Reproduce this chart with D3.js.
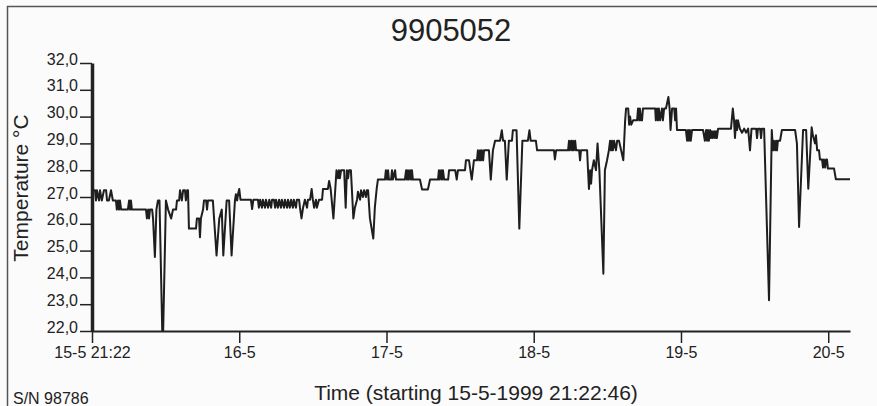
<!DOCTYPE html>
<html lang="en">
<head>
  <meta charset="UTF-8">
  <title>9905052</title>
  <script src="https://d3js.org/d3.v7.min.js"></script>
  <style>
    body {
      margin: 0;
      background: #fbfbfb;
      font-family: "Liberation Sans", Arial, sans-serif;
      color: #222;
    }
    .axis text {
      font-family: "Liberation Sans", Arial, sans-serif;
      font-size: 16px;
      fill: #222;
    }
    .axis line, .axis path {
      stroke: #222;
    }
  </style>
</head>
<body>
  <div id="chart"></div>
  <script>
    // hours since 15-5-1999 21:22:46, temperature in °C
    const readings = [
      [0.0,27.25],[0.5,27.25],[0.65,26.87],[0.8,27.25],[1.15,26.87],[1.3,27.25],[1.6,26.87],[1.95,27.25],
      [2.3,27.25],[2.45,26.87],[2.75,26.87],[3.1,27.25],[3.4,26.87],[3.9,26.87],[4.05,26.53],[4.25,26.87],
      [4.4,26.53],[4.55,26.87],[4.75,26.53],[5.85,26.53],[6.05,26.87],[6.2,26.53],[6.35,26.87],[6.5,26.53],
      [8.8,26.53],[8.95,26.2],[9.15,26.53],[9.3,26.2],[9.45,26.53],[9.8,26.53],[9.95,26.2],[10.25,24.76],
      [10.5,26.53],[10.75,26.87],[11.0,26.87],[11.45,22.0],[11.6,22.0],[12.05,26.87],[12.4,26.53],[12.9,26.2],
      [13.2,26.53],[13.7,26.53],[13.85,26.87],[14.2,26.87],[14.35,27.25],[14.65,26.87],[14.85,27.25],[15.15,27.25],
      [15.3,26.87],[15.5,27.25],[15.65,27.25],[15.8,25.82],[16.95,25.82],[17.1,26.2],[17.45,26.2],[17.6,25.5],
      [17.75,26.2],[18.1,26.53],[18.25,26.87],[18.6,26.87],[18.75,26.53],[18.9,26.87],[19.7,26.87],[20.3,24.82],
      [20.75,26.2],[21.15,26.53],[21.4,24.82],[21.95,26.87],[22.35,26.87],[22.75,24.82],[23.3,26.87],[23.45,27.1],
      [23.65,26.87],[23.8,27.1],[24.0,27.3],[24.2,26.9],[24.6,26.9],
      [24.95,26.9],[25.9,26.9],[26.1,26.55],[26.3,26.9],[27.05,26.9],[27.2,26.6],[27.4,26.9],[27.7,26.6],
      [27.85,26.9],[28.2,26.6],[28.35,26.9],[28.7,26.6],[28.9,26.9],[29.2,26.6],[29.35,26.9],[29.65,26.9],
      [29.85,26.6],[30.0,26.9],[30.3,26.6],[30.5,26.9],[30.8,26.6],[30.95,26.9],[31.3,26.6],[31.45,26.9],
      [31.8,26.6],[31.95,26.9],[32.25,26.6],[32.45,26.9],[32.75,26.6],[32.9,26.9],[33.25,26.6],[33.4,26.9],
      [33.75,26.9],[33.9,26.6],[34.15,26.2],[34.4,26.6],[34.7,26.9],[35.05,26.6],[35.2,26.9],[35.55,26.9],
      [35.8,27.3],[36.0,26.9],[36.2,26.6],[36.5,26.9],[36.65,26.6],[37.0,26.9],[37.5,26.9],[37.65,27.3],
      [38.45,27.3],[38.65,27.6],[38.9,27.3],[39.35,26.2],[39.85,28.0],[40.1,27.7],[40.25,28.0],[40.4,27.7],
      [40.6,28.0],[41.1,28.0],[41.35,26.6],[41.55,28.0],[41.75,27.7],[41.9,28.0],[42.2,28.0],[42.6,26.2],
      [42.85,26.6],[43.2,26.9],[43.35,27.2],[43.7,26.9],[43.85,27.25],[44.15,27.0],[44.35,27.25],[44.65,27.0],
      [44.8,27.25],[45.0,27.25],[45.3,26.2],[45.85,25.45],[46.1,26.6],[46.4,27.3],[46.6,27.65],[47.75,27.65],
      [47.9,28.0],[48.1,27.65],[48.25,28.0],[48.4,27.65],[48.75,27.65],[48.9,28.0],[49.05,27.65],[49.4,28.0],
      [49.55,27.65],
      [51.0,27.65],[51.2,28.0],[51.35,27.65],[51.5,28.0],[51.65,27.65],[51.85,28.0],[52.0,27.65],[52.15,28.0],
      [52.3,27.65],[53.45,27.65],[53.8,27.28],[54.75,27.28],[55.1,27.65],[56.4,27.65],[56.55,28.0],[56.7,27.65],
      [56.9,28.0],[57.05,27.65],[57.2,28.0],[57.4,27.65],[58.05,27.65],[58.2,28.0],[59.2,28.0],[59.45,27.65],
      [59.65,28.0],[60.8,28.0],[60.95,28.37],[61.45,28.37],[61.9,27.65],[62.25,28.37],[62.75,28.37],[62.9,28.74],
      [63.1,28.37],[63.25,28.74],[63.4,28.37],[63.55,28.74],[63.75,28.37],[63.9,28.74],[64.7,28.74],[65.0,27.65],
      [65.35,28.74],[65.7,29.1],[66.5,29.1],[66.8,29.49],[67.0,29.1],[67.3,29.1],[67.6,27.65],[67.95,29.1],
      [68.45,29.1],[68.6,29.49],[69.2,29.49],[69.65,25.82],[70.15,29.1],[71.05,29.1],[71.3,29.49],[71.5,29.1],
      [72.35,29.1],[72.55,28.74],[75.3,28.74],[75.45,28.4],[75.65,28.74],
      [77.6,28.74],[77.75,29.1],[77.9,28.74],[78.1,29.1],[78.25,28.74],[78.4,29.1],[78.55,28.74],[78.75,29.1],
      [78.9,28.74],[79.4,28.74],[79.55,28.37],[79.7,28.74],[80.7,28.74],[80.85,28.0],[81.0,27.3],[81.2,28.0],
      [81.35,27.5],[81.5,28.0],[81.8,28.37],[82.15,28.0],[82.4,29.0],[82.7,28.0],[83.35,24.14],[83.6,28.0],
      [83.95,28.37],[84.25,28.74],[84.45,29.1],[84.6,28.74],[84.75,29.1],[84.9,28.74],[85.1,29.1],[85.4,28.74],
      [85.6,29.1],[85.9,29.1],[86.25,28.74],[86.6,28.37],[86.9,29.86],[87.05,30.3],[87.4,30.3],[87.55,29.7],
      [87.7,30.0],[87.9,29.7],[88.2,29.86],[88.85,29.86],[89.0,30.3],[89.2,29.86],[89.3,30.3],[89.5,29.86],
      [89.65,29.86],[89.8,30.3],[91.8,30.3],[91.9,29.86],[92.1,30.3],[92.25,29.86],[92.4,30.3],[92.6,29.86],
      [92.9,30.3],[93.05,29.86],[93.25,30.3],[93.55,30.3],[93.95,30.73],[94.15,30.3],[94.3,29.5],[94.55,30.3],
      [94.9,30.3],[95.05,29.86],[95.2,30.3],[95.35,29.5],[95.85,29.5],[96.8,29.5],[97.0,29.1],[97.15,29.5],
      [97.3,29.1],[97.45,29.5],[97.6,29.1],[97.8,29.5],[99.6,29.5],[99.9,29.1],[100.1,29.5],[100.25,29.1],
      [100.4,29.5],[100.55,29.1],[100.75,29.5],
      [100.9,29.2],[101.05,29.45],[101.2,29.2],[101.4,29.45],[101.55,29.2],[101.7,29.45],[101.85,29.2],[102.05,29.55],
      [104.15,29.55],[104.45,30.3],[104.65,29.86],[104.8,29.2],[105.0,29.86],[105.15,29.5],[105.3,29.86],[105.6,29.55],
      [105.95,29.4],[106.3,29.55],[106.6,29.4],[106.95,29.55],[107.25,28.74],[107.5,29.55],[108.25,29.55],[108.4,29.2],
      [108.55,29.55],[108.9,29.55],[109.05,29.2],[109.2,29.55],[109.55,29.55],[110.35,23.15],[110.8,29.5],[111.0,28.74],
      [111.15,29.1],[111.35,28.74],[111.5,29.1],[111.65,28.74],[111.8,29.1],[112.15,29.1],[112.45,29.5],[114.6,29.5],
      [114.9,29.0],[115.25,25.88],[115.9,29.5],[116.4,29.5],[116.75,27.31],[117.3,29.6],[117.5,29.3],[117.85,29.0],
      [118.0,29.3],[118.2,28.74],[118.5,28.74],[118.65,28.4],[119.0,28.4],[119.15,28.1],[119.3,28.4],[119.5,28.1],
      [119.65,28.4],[119.8,28.4],[119.95,28.06],[120.95,28.06],[121.25,27.66],[123.55,27.66]
    ];

    const tickHours = [0, 24, 48, 72, 96, 120];
    const tickLabels = ["15-5 21:22", "16-5", "17-5", "18-5", "19-5", "20-5"];
    const tempTicks = [22, 23, 24, 25, 26, 27, 28, 29, 30, 31, 32];

    const title = "9905052";
    const serial = "S/N 98786";
    const xTitle = "Time (starting 15-5-1999 21:22:46)";
    const yTitle = "Temperature °C";

    const W = 877, H = 406;
    const margin = {top: 63, left: 92, right: 27, bottom: 75};
    const width = W - margin.left - margin.right,
      height = H - margin.top - margin.bottom;

    const svg = d3.select("#chart")
      .append("svg")
      .attr("width", W)
      .attr("height", H);

    // outer frame of the printout
    svg.append("rect")
      .attr("x", 7.5).attr("y", 6.5)
      .attr("width", 900).attr("height", 420)
      .attr("fill", "none")
      .attr("stroke", "#555")
      .attr("stroke-width", 1.5);

    const g = svg.append("g")
      .attr("transform", "translate(" + margin.left + "," + margin.top + ")");

    const x = d3.scaleLinear()
      .domain([0, 123.55])
      .range([0, width]);

    const y = d3.scaleLinear()
      .domain([22, 32])
      .range([height, 0]);

    const yAxis = g.append("g")
      .attr("class", "axis")
      .call(d3.axisLeft(y)
        .tickValues(tempTicks)
        .tickSize(12)
        .tickSizeOuter(0)
        .tickFormat(d => d3.format(".1f")(d).replace(".", ",")));
    yAxis.select(".domain").attr("stroke-width", 3.5);
    yAxis.selectAll(".tick line").attr("stroke-width", 1.5);
    yAxis.selectAll(".tick text").attr("x", -14).attr("dy", 0).attr("y", 1);

    const xAxis = g.append("g")
      .attr("class", "axis")
      .attr("transform", "translate(0," + height + ")")
      .call(d3.axisBottom(x)
        .tickValues(tickHours)
        .tickSize(12)
        .tickSizeOuter(0)
        .tickFormat((d, i) => tickLabels[i]));
    xAxis.select(".domain").attr("stroke-width", 2);
    xAxis.selectAll(".tick line").attr("stroke-width", 1.5);
    xAxis.selectAll(".tick text").attr("dy", 0).attr("y", 27);

    const line = d3.line()
      .x(d => x(d[0]))
      .y(d => y(d[1]));

    g.append("path")
      .datum(readings)
      .attr("fill", "none")
      .attr("stroke", "#1e1e1e")
      .attr("stroke-width", 2)
      .attr("stroke-linejoin", "round")
      .attr("d", line);

    svg.append("text")
      .attr("x", 451).attr("y", 41)
      .attr("text-anchor", "middle")
      .attr("font-size", 31)
      .attr("fill", "#222")
      .text(title);

    svg.append("text")
      .attr("x", 476).attr("y", 400)
      .attr("text-anchor", "middle")
      .attr("font-size", 21)
      .attr("fill", "#222")
      .text(xTitle);

    svg.append("text")
      .attr("transform", "translate(28,188) rotate(-90)")
      .attr("text-anchor", "middle")
      .attr("font-size", 21)
      .attr("fill", "#222")
      .text(yTitle);

    svg.append("text")
      .attr("x", 13).attr("y", 404)
      .attr("font-size", 16)
      .attr("fill", "#222")
      .text(serial);
  </script>
</body>
</html>
